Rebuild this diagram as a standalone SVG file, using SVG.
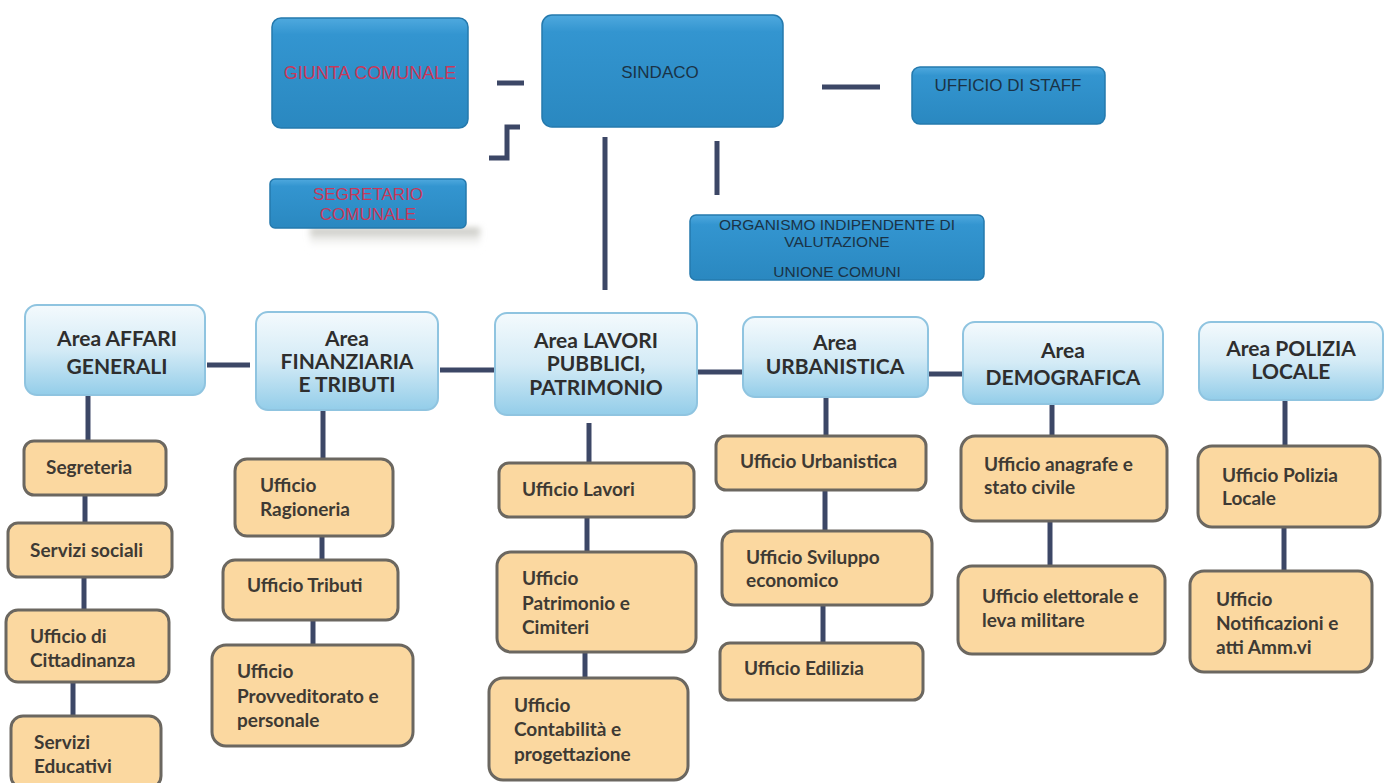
<svg xmlns="http://www.w3.org/2000/svg" width="1391" height="783" viewBox="0 0 1391 783">
<defs>
<linearGradient id="blueTop" x1="0" y1="0" x2="0" y2="1">
<stop offset="0" stop-color="#4fa9de"/>
<stop offset="0.15" stop-color="#3395d0"/>
<stop offset="1" stop-color="#2a88c0"/>
</linearGradient>
<linearGradient id="areaGrad" x1="0" y1="0" x2="0" y2="1">
<stop offset="0" stop-color="#f4fafd"/>
<stop offset="0.5" stop-color="#d4ebf6"/>
<stop offset="1" stop-color="#93cde9"/>
</linearGradient>
<linearGradient id="shadowGrad" x1="0" y1="0" x2="0" y2="1">
<stop offset="0" stop-color="#b8b8b0"/>
<stop offset="1" stop-color="#ffffff" stop-opacity="0"/>
</linearGradient>
<filter id="blur" x="-10%" y="-30%" width="120%" height="160%"><feGaussianBlur stdDeviation="3"/></filter>
</defs>
<style>
.top{fill:url(#blueTop);stroke:#2479ad;stroke-width:1.5}
.area{fill:url(#areaGrad);stroke:#8fc4e0;stroke-width:2}
.off{fill:#fbd8a0;stroke:#6b6760;stroke-width:3}
.conn{stroke:#3c4766;stroke-width:5;fill:none;stroke-linecap:butt}
.ttop{font-family:"Liberation Sans",Arial,sans-serif;font-size:17px;fill:#1a3346;text-anchor:middle}
.tred{font-family:"Liberation Sans",Arial,sans-serif;font-size:17px;fill:#c8385a;text-anchor:middle}
.tarea{font-family:Lato,"Open Sans",sans-serif;font-weight:bold;font-size:21px;fill:#2e2e2e;text-anchor:middle}
.toff{font-family:Lato,"Open Sans",sans-serif;font-weight:bold;font-size:19px;fill:#3e3a34}
</style>
<rect width="1391" height="783" fill="#ffffff"/>

<g id="connectors">
<line class="conn" x1="497" y1="83" x2="524" y2="83"/>
<line class="conn" x1="822" y1="87" x2="880" y2="87"/>
<polyline class="conn" points="520,127 507,127 507,158 489,158"/>
<line class="conn" x1="605" y1="137" x2="605" y2="290"/>
<line class="conn" x1="717" y1="141" x2="717" y2="195"/>
<line class="conn" x1="207" y1="365" x2="250" y2="365"/>
<line class="conn" x1="440" y1="370" x2="495" y2="370"/>
<line class="conn" x1="697" y1="372" x2="743" y2="372"/>
<line class="conn" x1="928" y1="374" x2="963" y2="374"/>
<line class="conn" x1="88" y1="395" x2="88" y2="441" stroke-width="3"/>
<line class="conn" x1="85" y1="495" x2="85" y2="523"/>
<line class="conn" x1="84" y1="577" x2="84" y2="610"/>
<line class="conn" x1="73" y1="682" x2="73" y2="716"/>
<line class="conn" x1="323" y1="410" x2="323" y2="459"/>
<line class="conn" x1="322" y1="536" x2="322" y2="560" stroke-width="3"/>
<line class="conn" x1="313" y1="620" x2="313" y2="645"/>
<line class="conn" x1="589" y1="423" x2="589" y2="463"/>
<line class="conn" x1="587" y1="517" x2="587" y2="552"/>
<line class="conn" x1="585" y1="652" x2="585" y2="678"/>
<line class="conn" x1="826" y1="397" x2="826" y2="436" stroke-width="3"/>
<line class="conn" x1="825" y1="490" x2="825" y2="531"/>
<line class="conn" x1="823" y1="605" x2="823" y2="643"/>
<line class="conn" x1="1052" y1="404" x2="1052" y2="436"/>
<line class="conn" x1="1050" y1="521" x2="1050" y2="566"/>
<line class="conn" x1="1285" y1="400" x2="1285" y2="446"/>
<line class="conn" x1="1284" y1="527" x2="1284" y2="571"/>
</g>

<g id="giunta">
<rect class="top" x="272" y="18" width="196" height="110" rx="9"/>
<text class="tred" x="370" y="79" style="font-size:18px">GIUNTA COMUNALE</text>
</g>
<g id="sindaco">
<rect class="top" x="542" y="15" width="241" height="112" rx="10"/>
<text class="ttop" x="660" y="78">SINDACO</text>
</g>
<g id="staff">
<rect class="top" x="912" y="67" width="193" height="57" rx="8"/>
<text class="ttop" x="1008" y="91">UFFICIO DI STAFF</text>
</g>
<g id="segretario">
<rect x="310" y="228" width="170" height="22" fill="url(#shadowGrad)" filter="url(#blur)"/>
<rect class="top" x="270" y="179" width="196" height="49" rx="5"/>
<text class="tred" x="368" y="200">SEGRETARIO</text>
<text class="tred" x="368" y="220">COMUNALE</text>
</g>
<g id="oiv">
<rect class="top" x="690" y="215" width="294" height="65" rx="6"/>
<text class="ttop" x="837" y="230" style="font-size:15.5px">ORGANISMO INDIPENDENTE DI</text>
<text class="ttop" x="837" y="247" style="font-size:15.5px">VALUTAZIONE</text>
<text class="ttop" x="837" y="277" style="font-size:15.5px">UNIONE COMUNI</text>
</g>

<g id="area-affari">
<rect class="area" x="25" y="305" width="180" height="90" rx="12"/>
<text class="tarea" x="117" y="346">Area AFFARI</text>
<text class="tarea" x="117" y="374">GENERALI</text>
</g>
<g id="area-finanziaria">
<rect class="area" x="256" y="312" width="182" height="98" rx="12"/>
<text class="tarea" x="347" y="346">Area</text>
<text class="tarea" x="347" y="369">FINANZIARIA</text>
<text class="tarea" x="347" y="392">E TRIBUTI</text>
</g>
<g id="area-lavori">
<rect class="area" x="495" y="313" width="202" height="102" rx="12"/>
<text class="tarea" x="596" y="348">Area LAVORI</text>
<text class="tarea" x="596" y="371">PUBBLICI,</text>
<text class="tarea" x="596" y="395">PATRIMONIO</text>
</g>
<g id="area-urbanistica">
<rect class="area" x="743" y="317" width="185" height="80" rx="12"/>
<text class="tarea" x="835" y="350">Area</text>
<text class="tarea" x="835" y="374">URBANISTICA</text>
</g>
<g id="area-demografica">
<rect class="area" x="963" y="322" width="200" height="82" rx="12"/>
<text class="tarea" x="1063" y="358">Area</text>
<text class="tarea" x="1063" y="385">DEMOGRAFICA</text>
</g>
<g id="area-polizia">
<rect class="area" x="1199" y="322" width="184" height="78" rx="12"/>
<text class="tarea" x="1291" y="356">Area POLIZIA</text>
<text class="tarea" x="1291" y="379">LOCALE</text>
</g>

<g id="segreteria">
<rect class="off" x="24" y="441" width="142" height="54" rx="10"/>
<text class="toff" x="46" y="474">Segreteria</text>
</g>
<g id="servizi-sociali">
<rect class="off" x="8" y="523" width="164" height="54" rx="10"/>
<text class="toff" x="30" y="557">Servizi sociali</text>
</g>
<g id="cittadinanza">
<rect class="off" x="6" y="610" width="163" height="72" rx="12"/>
<text class="toff" x="30" y="643">Ufficio di</text>
<text class="toff" x="30" y="667">Cittadinanza</text>
</g>
<g id="educativi">
<rect class="off" x="11" y="716" width="150" height="72" rx="12"/>
<text class="toff" x="34" y="749">Servizi</text>
<text class="toff" x="34" y="773">Educativi</text>
</g>

<g id="ragioneria">
<rect class="off" x="235" y="459" width="158" height="77" rx="12"/>
<text class="toff" x="260" y="492">Ufficio</text>
<text class="toff" x="260" y="516">Ragioneria</text>
</g>
<g id="tributi">
<rect class="off" x="223" y="560" width="175" height="60" rx="12"/>
<text class="toff" x="247" y="592">Ufficio Tributi</text>
</g>
<g id="provveditorato">
<rect class="off" x="212" y="645" width="201" height="101" rx="14"/>
<text class="toff" x="237" y="678">Ufficio</text>
<text class="toff" x="237" y="703">Provveditorato e</text>
<text class="toff" x="237" y="727">personale</text>
</g>

<g id="lavori">
<rect class="off" x="499" y="463" width="195" height="54" rx="10"/>
<text class="toff" x="522" y="496">Ufficio Lavori</text>
</g>
<g id="patrimonio">
<rect class="off" x="497" y="552" width="199" height="100" rx="14"/>
<text class="toff" x="522" y="585">Ufficio</text>
<text class="toff" x="522" y="610">Patrimonio e</text>
<text class="toff" x="522" y="634">Cimiteri</text>
</g>
<g id="contabilita">
<rect class="off" x="489" y="678" width="199" height="102" rx="14"/>
<text class="toff" x="514" y="712">Ufficio</text>
<text class="toff" x="514" y="736">Contabilità e</text>
<text class="toff" x="514" y="761">progettazione</text>
</g>

<g id="urbanistica">
<rect class="off" x="716" y="436" width="210" height="54" rx="10"/>
<text class="toff" x="740" y="468">Ufficio Urbanistica</text>
</g>
<g id="sviluppo">
<rect class="off" x="722" y="531" width="210" height="74" rx="12"/>
<text class="toff" x="746" y="564">Ufficio Sviluppo</text>
<text class="toff" x="746" y="587">economico</text>
</g>
<g id="edilizia">
<rect class="off" x="720" y="643" width="203" height="57" rx="10"/>
<text class="toff" x="744" y="675">Ufficio Edilizia</text>
</g>

<g id="anagrafe">
<rect class="off" x="961" y="436" width="206" height="85" rx="14"/>
<text class="toff" x="984" y="471">Ufficio anagrafe e</text>
<text class="toff" x="984" y="494">stato civile</text>
</g>
<g id="elettorale">
<rect class="off" x="958" y="566" width="207" height="88" rx="14"/>
<text class="toff" x="982" y="603">Ufficio elettorale e</text>
<text class="toff" x="982" y="627">leva militare</text>
</g>

<g id="polizia">
<rect class="off" x="1198" y="446" width="182" height="81" rx="14"/>
<text class="toff" x="1222" y="482">Ufficio Polizia</text>
<text class="toff" x="1222" y="505">Locale</text>
</g>
<g id="notificazioni">
<rect class="off" x="1190" y="571" width="182" height="101" rx="14"/>
<text class="toff" x="1216" y="606">Ufficio</text>
<text class="toff" x="1216" y="630">Notificazioni e</text>
<text class="toff" x="1216" y="654">atti Amm.vi</text>
</g>
</svg>
